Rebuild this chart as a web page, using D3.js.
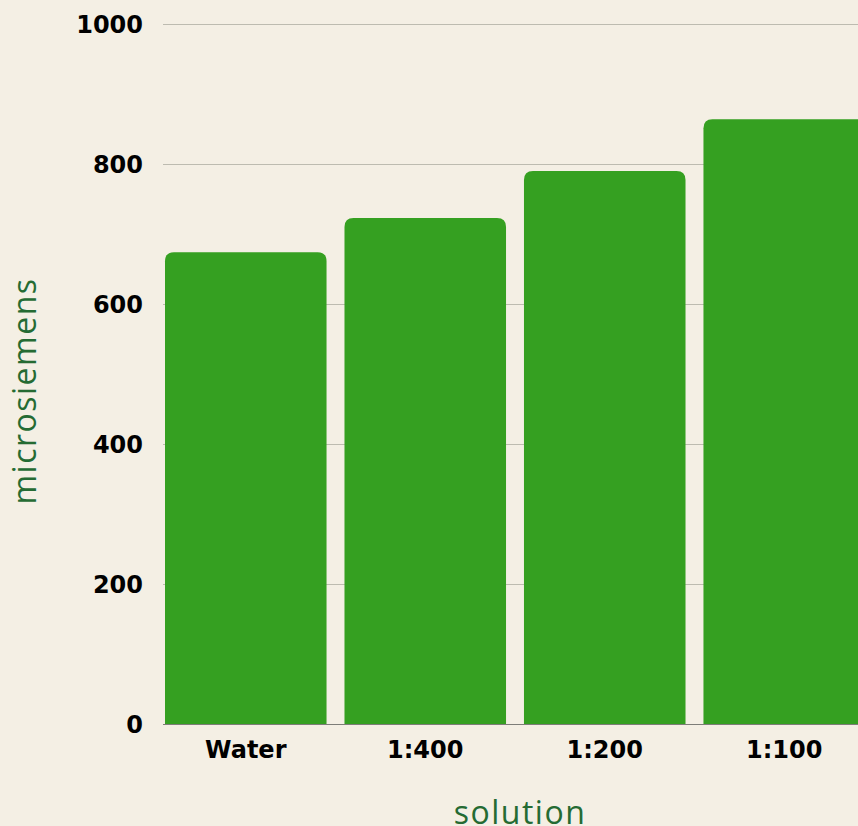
<!DOCTYPE html>
<html>
<head>
<meta charset="utf-8">
<script src="https://cdn.jsdelivr.net/npm/d3@7"></script>
<style>
  html, body { margin: 0; padding: 0; background: #f4efe4; }
  svg { display: block; }
</style>
</head>
<body>
<div id="chart"></div>
<script>
// Conductivity readings per solution.
const categories = ['Water', '1:400', '1:200', '1:100'];
const values     = [674, 723, 790, 864];
const yTicks     = [0, 200, 400, 600, 800, 1000];

const W = 858, H = 826;
const BAR = '#35a021';
const TITLE = '#256b33';

const svg = d3.select('#chart').append('svg')
  .attr('width', W)
  .attr('height', H);

const x = d3.scaleBand()
  .domain(categories)
  .range([165, 865])
  .paddingInner(0.1)
  .paddingOuter(0);

const y = d3.scaleLinear()
  .domain([0, 1000])
  .range([724, 24]);

// Gridlines + tick labels.
const grid = svg.append('g');
grid.selectAll('line')
  .data(yTicks)
  .join('line')
  .attr('x1', 163).attr('x2', W)
  .attr('y1', d => y(d) + 0.5).attr('y2', d => y(d) + 0.5)
  .attr('stroke', '#bdbbb0')
  .attr('stroke-width', 1);

grid.selectAll('text')
  .data(yTicks)
  .join('text')
  .attr('x', 143)
  .attr('y', d => y(d))
  .attr('dy', '0.36em')
  .attr('text-anchor', 'end')
  .attr('font-family', '"DejaVu Sans", sans-serif')
  .attr('font-weight', 'bold')
  .attr('font-size', 24)
  .attr('fill', '#000')
  .text(d => d);

// Bars with rounded top corners.
const r = 9;
function topRounded(x0, y0, w, h) {
  const rr = Math.min(r, h, w / 2);
  return `M${x0},${y0 + h}V${y0 + rr}Q${x0},${y0} ${x0 + rr},${y0}` +
         `H${x0 + w - rr}Q${x0 + w},${y0} ${x0 + w},${y0 + rr}V${y0 + h}Z`;
}

svg.append('g')
  .selectAll('path')
  .data(categories.map((c, i) => ({ c, v: values[i] })))
  .join('path')
  .attr('fill', BAR)
  .attr('d', d => topRounded(x(d.c), y(d.v), x.bandwidth(), y(0) - y(d.v)));

// Baseline.
svg.append('line')
  .attr('x1', 163).attr('x2', W)
  .attr('y1', y(0) + 0.5).attr('y2', y(0) + 0.5)
  .attr('stroke', '#7d7d78')
  .attr('stroke-width', 1);

// Category labels.
svg.append('g')
  .selectAll('text')
  .data(categories)
  .join('text')
  .attr('x', d => x(d) + x.bandwidth() / 2)
  .attr('y', 758)
  .attr('text-anchor', 'middle')
  .attr('font-family', '"DejaVu Sans", sans-serif')
  .attr('font-weight', 'bold')
  .attr('font-size', 24)
  .attr('fill', '#000')
  .text(d => d);

// Axis titles.
svg.append('text')
  .attr('x', 520)
  .attr('y', 824)
  .attr('text-anchor', 'middle')
  .attr('font-family', '"Open Sans", sans-serif')
  .attr('font-weight', 400)
  .attr('font-size', 32)
  .attr('letter-spacing', '1.5px')
  .attr('fill', TITLE)
  .text('solution');

svg.append('text')
  .attr('transform', 'translate(36,391) rotate(-90)')
  .attr('text-anchor', 'middle')
  .attr('font-family', '"Open Sans", sans-serif')
  .attr('font-weight', 400)
  .attr('font-size', 32)
  .attr('letter-spacing', '1.5px')
  .attr('fill', TITLE)
  .text('microsiemens');
</script>
</body>
</html>
